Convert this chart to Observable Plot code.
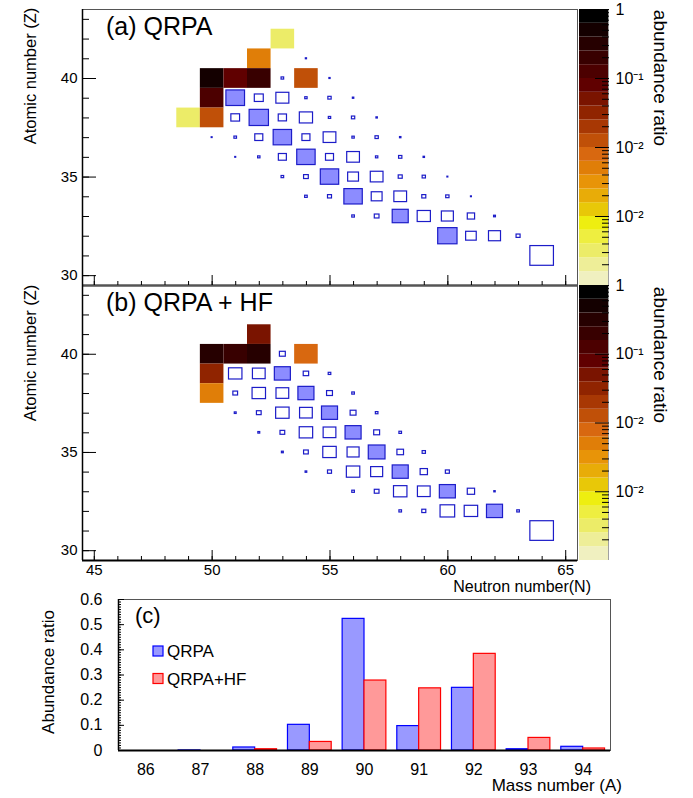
<!DOCTYPE html>
<html><head><meta charset="utf-8">
<script src="https://cdn.jsdelivr.net/npm/d3@7"></script>
<script src="https://cdn.jsdelivr.net/npm/@observablehq/plot@0.6"></script>
<style>
body{margin:0;background:#fff;}
#fig{position:relative;width:693px;height:798px;overflow:hidden;font-family:"Liberation Sans",Arial,Helvetica,sans-serif;}
#fig > svg{position:absolute;}
</style></head><body><div id="fig"></div>
<script>
// ---------- data ----------
const massNumbers = [86, 87, 88, 89, 90, 91, 92, 93, 94];
const abundQRPA   = [0, 0.0003, 0.012, 0.102, 0.523, 0.097, 0.249, 0.005, 0.0147];
const abundHF     = [0, 0, 0.005, 0.034, 0.278, 0.247, 0.384, 0.050, 0.008];

// coloured cells (final abundances) panel (a)
const cellN_a = [53, 52, 50, 51, 52, 54, 50, 49, 50];
const cellZ_a = [42, 41, 40, 40, 40, 40, 39, 38, 38];
const cellV_a = [0.0003, 0.005, 0.523, 0.097, 0.249, 0.0147, 0.102, 0.0003, 0.012];
// coloured cells panel (b)
const cellN_b = [52, 50, 51, 52, 54, 50, 50];
const cellZ_b = [41, 40, 40, 40, 40, 39, 38];
const cellV_b = [0.050, 0.278, 0.247, 0.384, 0.008, 0.034, 0.005];

// box cells panel (a): N, Z, relative size, filled flag
const boxN_a = [54, 53,55, 51,52,53,54,55,56, 51,52,53,54,55,56,57, 50,51,52,53,54,55,56,57,58, 51,52,53,54,55,56,57,58,59, 53,54,55,56,57,58,59,60, 54,55,56,57,58,59,60,61, 56,57,58,59,60,61,62, 60,61,62,63, 64];
const boxZ_a = [41, 40,40, 39,39,39,39,39,39, 38,38,38,38,38,38,38, 37,37,37,37,37,37,37,37,37, 36,36,36,36,36,36,36,36,36, 35,35,35,35,35,35,35,35, 34,34,34,34,34,34,34,34, 33,33,33,33,33,33,33, 32,32,32,32, 31];
const boxS_a = [0.05, 0.11,0.05, 0.79,0.38,0.55,0.10,0.14,0.06, 0.37,0.82,0.35,0.56,0.10,0.14,0.06, 0.04,0.11,0.34,0.78,0.34,0.54,0.10,0.14,0.06, 0.04,0.10,0.34,0.78,0.34,0.54,0.10,0.14,0.06, 0.11,0.20,0.78,0.46,0.54,0.17,0.14,0.04, 0.11,0.17,0.78,0.46,0.54,0.17,0.14,0.04, 0.11,0.20,0.68,0.56,0.51,0.31,0.08, 0.82,0.45,0.51,0.17, 1.0];
const boxF_a = [0, 0,0, 1,0,0,0,0,0, 0,1,0,0,0,0,0, 0,0,0,1,0,0,0,0,0, 0,0,0,1,0,0,0,0,0, 0,0,1,0,0,0,0,0, 0,0,1,0,0,0,0,0, 0,0,1,0,0,0,0, 1,0,0,0, 0];

// box cells panel (b)
const boxN_b = [53, 51,52,53,54,55, 51,52,53,54,55,56, 51,52,53,54,55,56,57, 52,53,54,55,56,57,58, 53,54,55,56,57,58,59, 54,55,56,57,58,59,60, 56,57,58,59,60,61,62, 58,59,60,61,62,63, 64];
const boxZ_b = [40, 39,39,39,39,39, 38,38,38,38,38,38, 37,37,37,37,37,37,37, 36,36,36,36,36,36,36, 35,35,35,35,35,35,35, 34,34,34,34,34,34,34, 33,33,33,33,33,33,33, 32,32,32,32,32,32, 31];
const boxS_b = [0.25, 0.57,0.54,0.68,0.23,0.11, 0.20,0.57,0.54,0.68,0.25,0.11, 0.08,0.20,0.57,0.54,0.68,0.25,0.11, 0.08,0.20,0.57,0.54,0.68,0.25,0.11, 0.08,0.20,0.57,0.51,0.71,0.28,0.14, 0.07,0.17,0.57,0.51,0.68,0.31,0.17, 0.11,0.20,0.57,0.54,0.68,0.31,0.06, 0.11,0.17,0.62,0.57,0.68,0.11, 1.0];
const boxF_b = [0, 0,0,1,0,0, 0,0,0,1,0,0, 0,0,0,0,1,0,0, 0,0,0,0,1,0,0, 0,0,0,0,1,0,0, 0,0,0,0,1,0,0, 0,0,0,0,1,0,0, 0,0,0,0,1,0, 0];

// colour palette (low -> high), 20 levels over 1e-4 .. 1
const palette = ["#f0f0c0","#eeee98","#ecec68","#eeee40","#eeee10","#e8c808","#e8ac08","#e89408","#e07e08","#d86810",
                 "#c05008","#a83804","#902400","#7a1400","#600000","#4c0000","#380000","#260000","#140000","#000000"];
const cbarTickValues = [1, 0.1, 0.01, 0.001];
const cbarTickLabels = ["1", "10\u207B\u00B9", "10\u207B\u00B2", "10\u207B\u00B2"];

// ---------- helpers ----------
const FONT = '"Liberation Sans", Arial, Helvetica, sans-serif';
const fig = document.getElementById("fig");
const xDomain = [44.5, 65.5], zDomain = [29.5, 43.5];
const thresholds = d3.range(1, 20).map(k => Math.pow(10, -4 + 0.2 * k));
const colorScale = {type: "threshold", domain: thresholds, range: palette};

function place(el, left, top) {
  el.style.position = "absolute"; el.style.left = left + "px"; el.style.top = top + "px";
  el.style.background = "transparent"; el.style.overflow = "visible"; el.style.maxWidth = "none";
  fig.appendChild(el);
}

function panel(N, Z, V, bN, bZ, bS, bF, showLabels, top, height, mt, mb) {
  const cells = N.map((n, i) => ({N: n, Z: Z[i], v: V[i]}));
  const boxes = bN.map((n, i) => ({N: n, Z: bZ[i], s: bS[i], f: bF[i]}));
  const majorX = d3.range(45, 66, 5), minorX = d3.range(45, 66);
  const boxOpt = {x1: d => d.N - d.s / 2, x2: d => d.N + d.s / 2, y1: d => d.Z - d.s / 2, y2: d => d.Z + d.s / 2,
                  stroke: "#1c1cc8", strokeWidth: 1.2};
  const p = Plot.plot({
    width: 693, height, marginLeft: 82, marginRight: 116, marginTop: mt, marginBottom: mb,
    style: {fontFamily: FONT, background: "transparent"},
    x: {domain: xDomain}, y: {domain: zDomain}, color: colorScale,
    marks: [
      Plot.rect(cells, {x1: d => d.N - 0.5, x2: d => d.N + 0.5, y1: d => d.Z - 0.5, y2: d => d.Z + 0.5, fill: "v"}),
      Plot.rect(boxes.filter(d => d.f), {...boxOpt, fill: "#8c8cff"}),
      Plot.rect(boxes.filter(d => !d.f), {...boxOpt, fill: "white"}),
      Plot.frame({stroke: "#555", strokeWidth: 1}),
      Plot.ruleX([xDomain[0]], {stroke: "black", strokeWidth: 1.5}),
      Plot.ruleY([zDomain[0]], {stroke: "black", strokeWidth: 2}),
      Plot.axisX({ticks: majorX, tickSize: -10, tickFormat: () => "", label: null}),
      Plot.axisX({ticks: minorX, tickSize: -4, tickFormat: () => "", label: null}),
      ...(showLabels ? [Plot.axisX({ticks: majorX, tickSize: 0, tickPadding: 4, label: null, fontSize: 15})] : []),
      Plot.axisY({ticks: [30, 35, 40], tickSize: -14, tickFormat: () => "", label: null}),
      Plot.axisY({ticks: d3.range(30, 44), tickSize: -7, tickFormat: () => "", label: null}),
      Plot.axisY({ticks: [30, 35, 40], tickSize: 0, tickPadding: 5, label: null, fontSize: 15})
    ]
  });
  place(p, 0, top);
}

function colorbar(top, height, mt, mb) {
  const bands = palette.map((c, i) => ({lo: Math.pow(10, -4 + 0.2 * i), hi: Math.pow(10, -4 + 0.2 * (i + 1))}));
  const minor = [];
  for (let e = -4; e < 0; e++) for (let m = 2; m <= 9; m++) minor.push(m * Math.pow(10, e));
  const lab = new Map(cbarTickValues.map((v, i) => [v, cbarTickLabels[i]]));
  const p = Plot.plot({
    width: 114, height, marginLeft: 0, marginRight: 85, marginTop: mt, marginBottom: mb,
    style: {fontFamily: FONT, background: "transparent"},
    x: {domain: [0, 1], axis: null}, y: {type: "log", domain: [1e-4, 1]}, color: colorScale,
    marks: [
      Plot.rect(bands, {x1: 0, x2: 1, y1: "lo", y2: "hi", fill: d => Math.sqrt(d.lo * d.hi)}),
      Plot.ruleX([1], {stroke: "#888", strokeWidth: 0.8}),
      Plot.axisY({anchor: "right", ticks: minor, tickSize: -7, tickFormat: () => "", label: null}),
      Plot.axisY({anchor: "right", ticks: cbarTickValues, tickSize: -14, tickFormat: () => "", label: null}),
      Plot.axisY({anchor: "right", ticks: cbarTickValues, tickSize: 0, tickPadding: 7, tickFormat: d => lab.get(d),
                  label: null, fontSize: 16})
    ]
  });
  place(p, 579, top);
}

// ---------- panels ----------
panel(cellN_a, cellZ_a, cellV_a, boxN_a, boxZ_a, boxS_a, boxF_a, false, 0, 290, 9, 5);
panel(cellN_b, cellZ_b, cellV_b, boxN_b, boxZ_b, boxS_b, boxF_b, true, 280, 330, 5, 50);
colorbar(0, 290, 9, 5);
colorbar(280, 285, 5, 5);

// ---------- bar chart ----------
const bars = massNumbers.map((a, i) => ({A: a, q: abundQRPA[i], h: abundHF[i]}));
const barPlot = Plot.plot({
  width: 693, height: 218, marginLeft: 118, marginRight: 83, marginTop: 19, marginBottom: 48,
  style: {fontFamily: FONT, background: "transparent"},
  x: {domain: [85.5, 94.5]}, y: {domain: [0, 0.6]},
  marks: [
    Plot.rectY(bars.filter(d => d.q > 0), {x1: d => d.A - 0.4, x2: d => d.A, y1: 0, y2: "q", fill: "#9999ff", stroke: "#0000ff", strokeWidth: 1.2}),
    Plot.rectY(bars.filter(d => d.h > 0), {x1: d => d.A, x2: d => d.A + 0.4, y1: 0, y2: "h", fill: "#ff9999", stroke: "#ff0000", strokeWidth: 1.2}),
    Plot.frame({stroke: "#555", strokeWidth: 1}),
    Plot.ruleX([85.5], {stroke: "black", strokeWidth: 1.5}),
    Plot.ruleY([0], {stroke: "black", strokeWidth: 2}),
    Plot.axisX({ticks: massNumbers, tickSize: 0, tickPadding: 13, label: null, fontSize: 16}),
    Plot.axisY({ticks: d3.range(0, 0.601, 0.1), tickSize: -6, tickFormat: () => "", label: null}),
    Plot.axisY({ticks: d3.range(0, 0.601, 0.01), tickSize: -3, tickFormat: () => "", label: null}),
    Plot.axisY({ticks: d3.range(0, 0.601, 0.1), tickSize: 0, tickPadding: 16, label: null, fontSize: 16,
                tickFormat: d => d < 1e-9 ? "0" : d3.format(".1f")(d)})
  ]
});
place(barPlot, 0, 580);

// ---------- overlay texts ----------
const ov = d3.select(fig).append("svg").attr("width", 693).attr("height", 798)
  .style("position", "absolute").style("left", "0px").style("top", "0px")
  .style("font-family", FONT).style("pointer-events", "none");
function txt(x, y, s, size, anchor = "start", rot = 0) {
  ov.append("text").attr("transform", `translate(${x},${y}) rotate(${rot})`)
    .attr("text-anchor", anchor).attr("font-size", size).attr("fill", "black").text(s);
}
txt(106, 35, "(a) QRPA", 25);
txt(106, 311, "(b) QRPA + HF", 25);
txt(36, 76, "Atomic number (Z)", 16.5, "middle", -90);
txt(36, 353, "Atomic number (Z)", 16.5, "middle", -90);
txt(654, 78, "abundance ratio", 19, "middle", 90);
txt(654, 355, "abundance ratio", 19, "middle", 90);
txt(591, 592, "Neutron number(N)", 16, "end");
txt(622, 791, "Mass number (A)", 17, "end");
txt(54, 672, "Abundance ratio", 17, "middle", -90);
txt(135, 623, "(c)", 22);
// legend
const legendItems = [["QRPA", "#9999ff", "#0000ff"], ["QRPA+HF", "#ff9999", "#ff0000"]];
legendItems.forEach(([name, fill, stroke], i) => {
  const cy = 651 + i * 27.5;
  ov.append("rect").attr("x", 153).attr("y", cy - 5).attr("width", 10).attr("height", 10)
    .attr("fill", fill).attr("stroke", stroke).attr("stroke-width", 1.2);
  txt(167, cy + 6, name, 17);
});
</script></body></html>
